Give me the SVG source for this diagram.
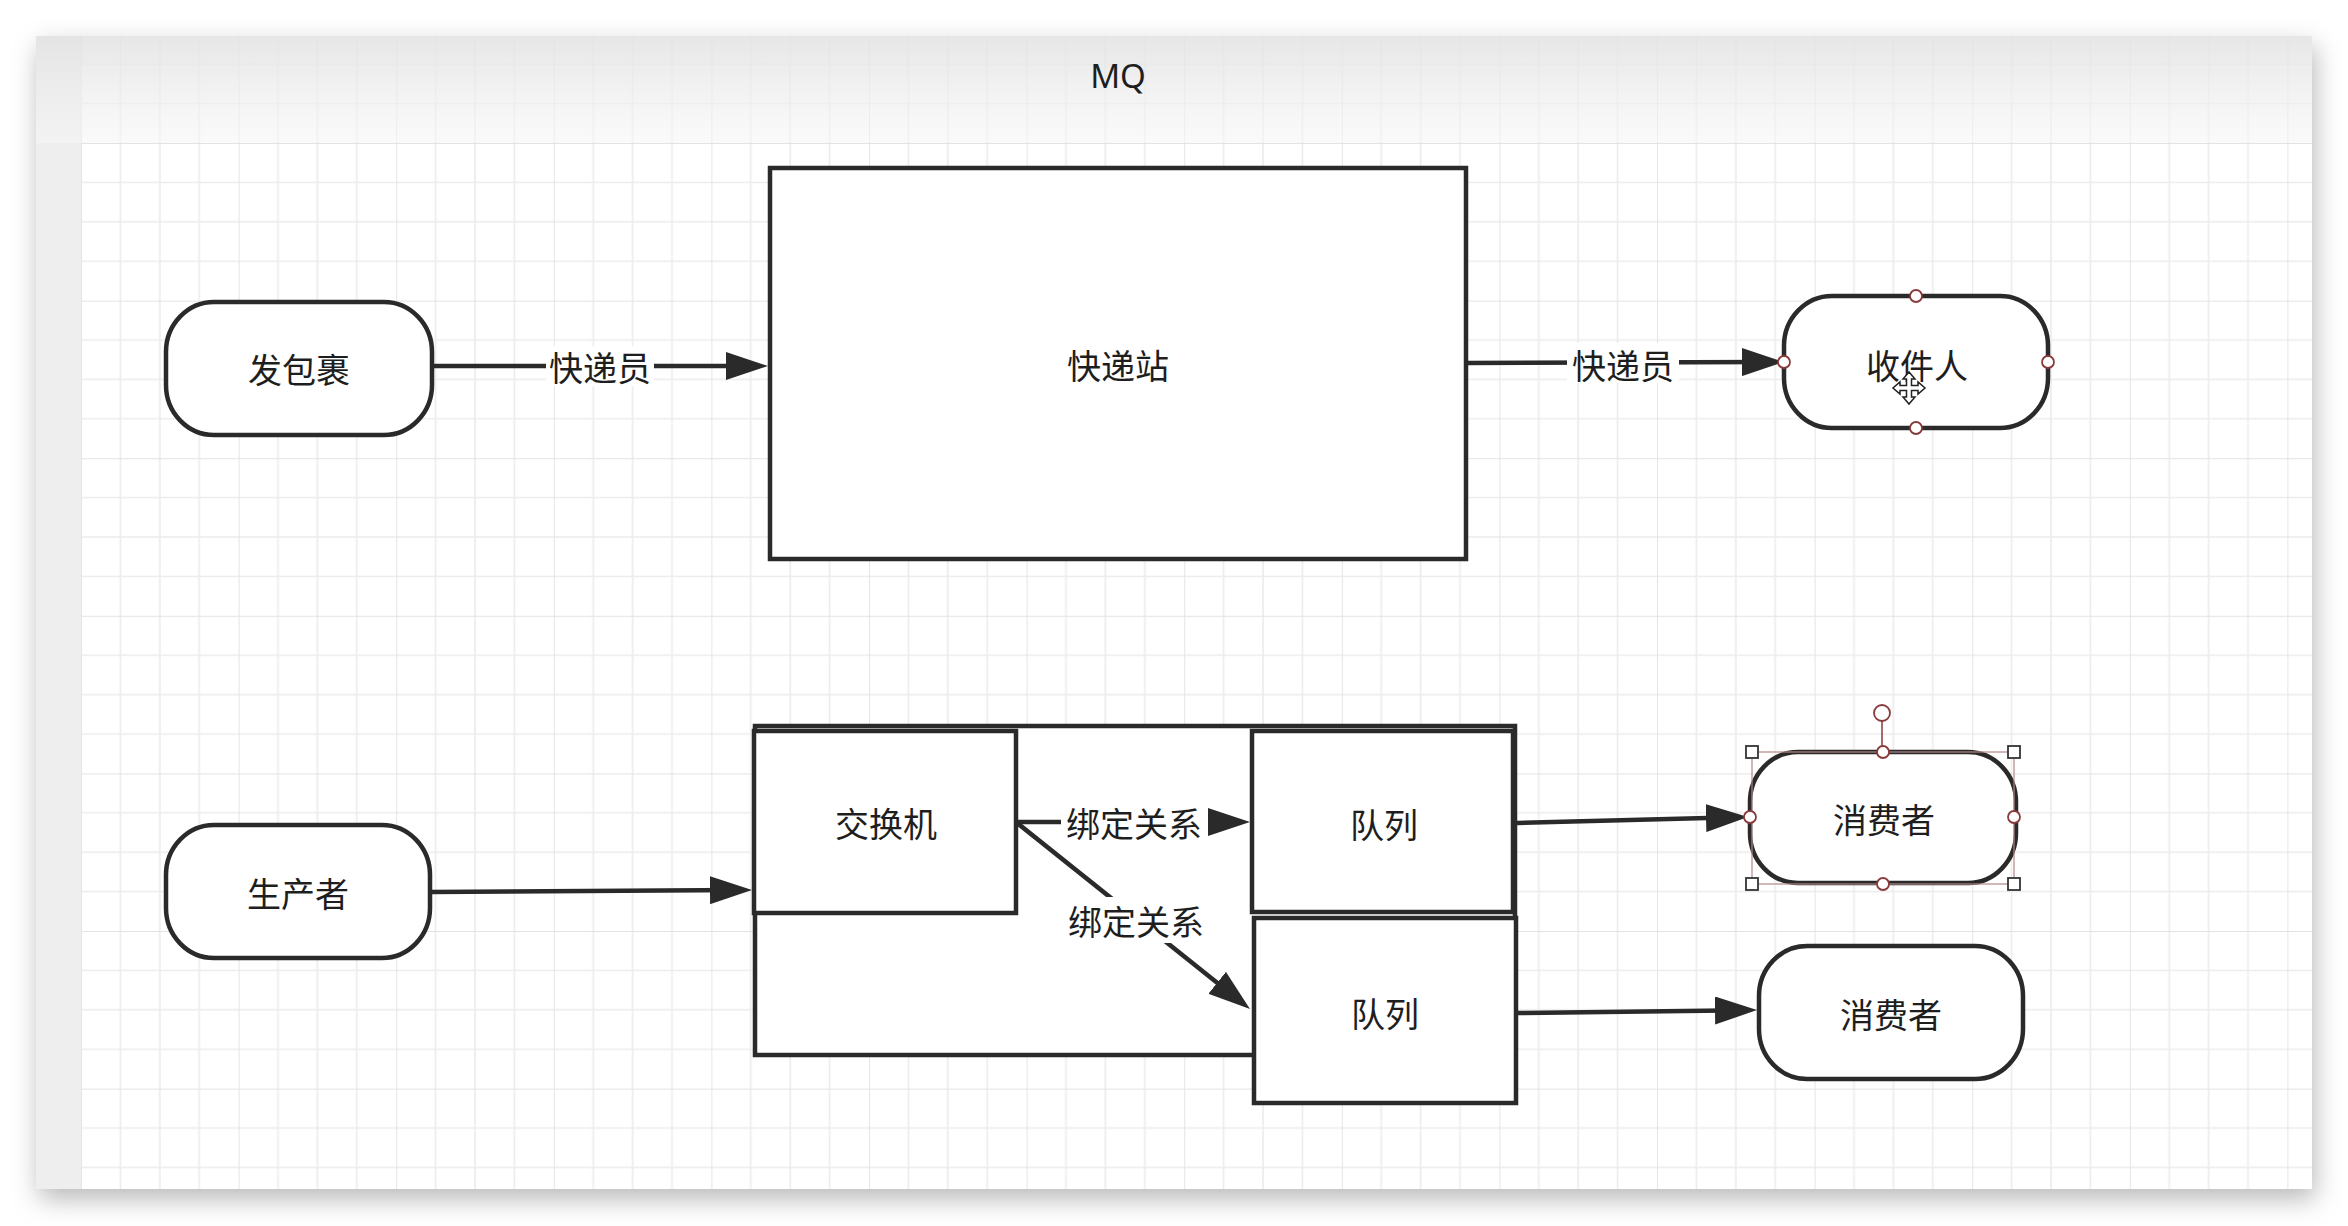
<svg xmlns="http://www.w3.org/2000/svg" width="2348" height="1226" viewBox="0 0 2348 1226">
  <style>
    .node { fill: #ffffff; stroke: #2a2a2a; stroke-width: 4.5; }
    .pill { rx: 48px; ry: 50px; }
    .lbl { font-family: "Noto Sans CJK SC", "Noto Sans", sans-serif; font-size: 34px; fill: #1e1e1e; text-anchor: middle; dominant-baseline: central; }
    .edge { fill: none; stroke: #2a2a2a; stroke-width: 4.5; marker-end: url(#arr); }
    .lblbg { fill: #ffffff; }
    .hc { fill: #ffffff; stroke: #8a3a3a; stroke-width: 1.8; }
    .hs { fill: #ffffff; stroke: #333333; stroke-width: 1.8; }
    .gmin { stroke: #ececec; stroke-width: 1.6; fill: none; }
    .gmaj { stroke: #e3e3e3; stroke-width: 1.8; fill: none; }
  </style>
  <defs>
    <filter id="sh" x="-5%" y="-5%" width="110%" height="112%">
      <feDropShadow dx="3" dy="10" stdDeviation="13" flood-color="#000000" flood-opacity="0.28"/>
    </filter>
    <pattern id="grid" x="81" y="143" width="157.6" height="157.6" patternUnits="userSpaceOnUse">
      <path class="gmin" d="M39.4,0V157.6M78.8,0V157.6M118.2,0V157.6M0,39.4H157.6M0,78.8H157.6M0,118.2H157.6"/>
      <path class="gmaj" d="M0,0V157.6M0,0H157.6"/>
    </pattern>
    <linearGradient id="hdr" x1="0" y1="0" x2="0" y2="1">
      <stop offset="0" stop-color="#e2e2e2" stop-opacity="0.85"/>
      <stop offset="1" stop-color="#f6f6f6" stop-opacity="0.55"/>
    </linearGradient>
    <marker id="arr" markerUnits="userSpaceOnUse" markerWidth="42" markerHeight="28" refX="30" refY="14" orient="auto">
      <path d="M0,0 L42,14 L0,28 z" fill="#2a2a2a"/>
    </marker>
  </defs>

  <!-- page background and window -->
  <rect x="0" y="0" width="2348" height="1226" fill="#ffffff"/>
  <rect x="36" y="36" width="2276" height="1153" fill="#ffffff" filter="url(#sh)"/>
  <rect x="81" y="36" width="2231" height="1153" fill="url(#grid)"/>
  <rect x="36" y="36" width="45" height="1153" fill="#eeeeee"/>
  <rect x="36" y="36" width="2276" height="107" fill="url(#hdr)"/>
  <text x="1118" y="88" font-family="Noto Sans, Liberation Sans, sans-serif" font-size="33" fill="#1e1e1e" text-anchor="middle">MQ</text>

  <g id="nodes">
    <g id="n-fabaoguo">
      <rect class="node pill" x="166" y="302" width="266" height="133"/>
      <text class="lbl" x="299" y="368">发包裹</text>
    </g>
    <g id="n-kuaidizhan">
      <rect class="node" x="770" y="168" width="696" height="391"/>
      <text class="lbl" x="1118" y="364">快递站</text>
    </g>
    <g id="n-shoujianren">
      <rect class="node pill" x="1784" y="296" width="264" height="132"/>
      <text class="lbl" x="1917" y="364">收件人</text>
    </g>
    <g id="n-shengchanzhe">
      <rect class="node pill" x="166" y="825" width="264" height="133"/>
      <text class="lbl" x="298" y="892">生产者</text>
    </g>
    <g id="n-container">
      <rect class="node" x="755" y="726" width="760" height="329"/>
    </g>
    <g id="n-exchange">
      <rect class="node" x="754" y="731" width="262" height="182"/>
      <text class="lbl" x="886" y="822">交换机</text>
    </g>
    <g id="n-queue1">
      <rect class="node" x="1252" y="731" width="261" height="181"/>
      <text class="lbl" x="1384" y="823">队列</text>
    </g>
    <g id="n-queue2">
      <rect class="node" x="1254" y="918" width="262" height="185"/>
      <text class="lbl" x="1385" y="1012">队列</text>
    </g>
    <g id="n-consumer1">
      <rect class="node pill" x="1750" y="752" width="266" height="131"/>
      <text class="lbl" x="1884" y="818">消费者</text>
    </g>
    <g id="n-consumer2">
      <rect class="node pill" x="1759" y="946" width="264" height="133"/>
      <text class="lbl" x="1891" y="1013">消费者</text>
    </g>
  </g>

  <g id="connectors">
    <path class="edge" d="M432,366 L756,366"/>
    <rect class="lblbg" x="546" y="346" width="108" height="40"/>
    <text class="lbl" x="600" y="366">快递员</text>

    <path class="edge" d="M1467,363 L1772,362"/>
    <rect class="lblbg" x="1567" y="343" width="112" height="40"/>
    <text class="lbl" x="1623" y="364">快递员</text>

    <path class="edge" d="M431,892 L740,890"/>

    <path class="edge" d="M1016,822 L1238,822"/>
    <rect class="lblbg" x="1061" y="802" width="147" height="40"/>
    <text class="lbl" x="1134" y="822">绑定关系</text>

    <path class="edge" d="M1016,822 L1240.6,1001.5"/>
    <rect class="lblbg" x="1067" y="897" width="138" height="46"/>
    <text class="lbl" x="1136" y="920">绑定关系</text>

    <path class="edge" d="M1517,823 L1736,817.3"/>
    <path class="edge" d="M1517,1013 L1745,1010.2"/>
  </g>

  <g id="selection">
    <circle class="hc" cx="1916" cy="296" r="6"/>
    <circle class="hc" cx="1916" cy="428" r="6"/>
    <circle class="hc" cx="1784" cy="362" r="6"/>
    <circle class="hc" cx="2048" cy="362" r="6"/>

    <rect x="1752" y="752" width="262" height="132" fill="none" stroke="#b08888" stroke-width="1.2"/>
    <line x1="1882" y1="721" x2="1882" y2="752" stroke="#8a3a3a" stroke-width="1.5"/>
    <circle class="hc" cx="1882" cy="713" r="8"/>
    <circle class="hc" cx="1883" cy="752" r="6"/>
    <circle class="hc" cx="1883" cy="884" r="6"/>
    <circle class="hc" cx="1750" cy="817" r="6"/>
    <circle class="hc" cx="2014" cy="817" r="6"/>
    <rect class="hs" x="1746" y="746" width="12" height="12"/>
    <rect class="hs" x="2008" y="746" width="12" height="12"/>
    <rect class="hs" x="1746" y="878" width="12" height="12"/>
    <rect class="hs" x="2008" y="878" width="12" height="12"/>

    <path transform="translate(1909,388)" d="M0,-16 L-6,-9 L-2.5,-9 L-2.5,-2.5 L-9,-2.5 L-9,-6 L-16,0 L-9,6 L-9,2.5 L-2.5,2.5 L-2.5,9 L-6,9 L0,16 L6,9 L2.5,9 L2.5,2.5 L9,2.5 L9,6 L16,0 L9,-6 L9,-2.5 L2.5,-2.5 L2.5,-9 L6,-9 Z" fill="#ffffff" stroke="#222222" stroke-width="1.5"/>
  </g>
</svg>
